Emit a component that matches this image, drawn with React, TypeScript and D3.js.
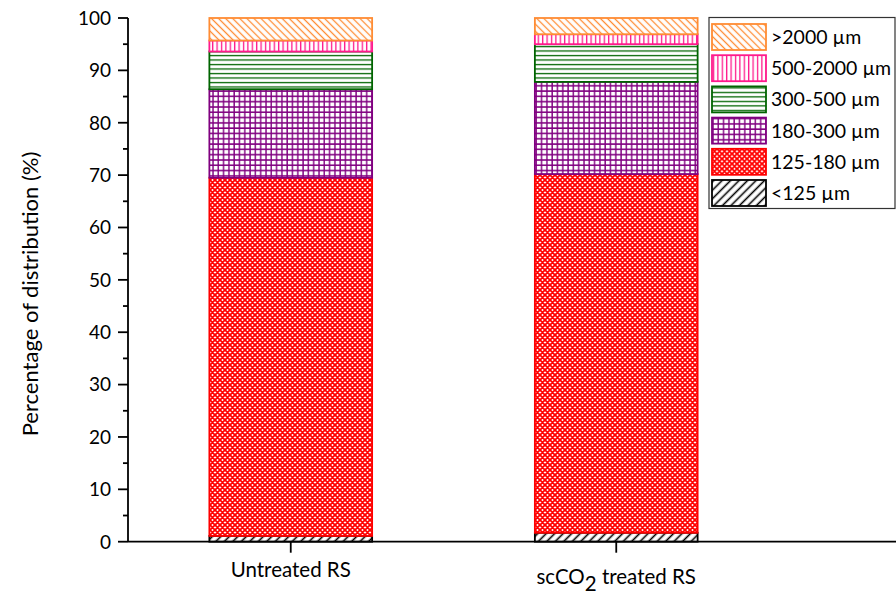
import React from "react";
import * as d3 from "d3";

// Particle size classes, bottom to top of each stack
const sizeClasses = ["<125 µm", "125-180 µm", "180-300 µm", "300-500 µm", "500-2000 µm", ">2000 µm"];
const samples = ["Untreated RS", "scCO2 treated RS"];
// Percentage of each size class per sample
const untreatedValues = [1.1, 68.4, 16.9, 7.2, 2.1, 4.3];
const treatedValues = [1.7, 68.5, 17.6, 7.2, 1.9, 3.1];
const yTicks = [0, 10, 20, 30, 40, 50, 60, 70, 80, 90, 100];
const yMinorTicks = [5, 15, 25, 35, 45, 55, 65, 75, 85, 95];

const colors = ["#000000", "#ff0000", "#800080", "#006400", "#ff1a8c", "#ff8c33"];
const patternIds = ["pBlack", "pRed", "pPurple", "pGreen", "pPink", "pOrange"];

const W = 896;
const H = 598;
const FONT = "Lato, 'Open Sans', sans-serif";

export default function App() {
  const y = d3.scaleLinear().domain([0, 100]).range([541.7, 18]);
  const x = d3.scaleBand<string>().domain(samples).range([128, 779]).paddingInner(0.5).paddingOuter(0.25);
  const series = [untreatedValues, treatedValues];

  const table = samples.map((s, i) => {
    const row: Record<string, number | string> = { sample: s };
    sizeClasses.forEach((c, j) => (row[c] = series[i][j]));
    return row;
  });
  const stacked = d3.stack<Record<string, number | string>>().keys(sizeClasses)(table as any);

  return (
    <svg width={W} height={H} style={{ position: "absolute", left: 0, top: 0, background: "#fff" }}>
      <defs>
        <pattern id="pBlack" width="6" height="6" patternUnits="userSpaceOnUse" patternTransform="rotate(45)">
          <rect width="6" height="6" fill="#fff" />
          <line x1="1.5" y1="0" x2="1.5" y2="6" stroke="#000" strokeWidth="1.6" />
        </pattern>
        <pattern id="pRed" width="5" height="5" patternUnits="userSpaceOnUse">
          <rect width="5" height="5" fill="#fff" />
          <path d="M0,0L5,5M5,0L0,5M-1,4L1,6M4,-1L6,1M-1,1L1,-1M4,6L6,4" stroke="#ff0000" strokeWidth="1.8" />
        </pattern>
        <pattern id="pPurple" width="5.3" height="5.3" patternUnits="userSpaceOnUse">
          <rect width="5.3" height="5.3" fill="#fff" />
          <path d="M1,0V5.3M0,1H5.3" stroke="#800080" strokeWidth="1.4" />
        </pattern>
        <pattern id="pGreen" width="8" height="4.5" patternUnits="userSpaceOnUse">
          <rect width="8" height="4.5" fill="#fff" />
          <path d="M0,1.5H8" stroke="#006400" strokeWidth="1.3" />
        </pattern>
        <pattern id="pPink" width="4.4" height="8" patternUnits="userSpaceOnUse">
          <rect width="4.4" height="8" fill="#fff" />
          <path d="M1.5,0V8" stroke="#ff1a8c" strokeWidth="1.3" />
        </pattern>
        <pattern id="pOrange" width="5" height="5" patternUnits="userSpaceOnUse" patternTransform="rotate(-45)">
          <rect width="5" height="5" fill="#fff" />
          <line x1="1.5" y1="0" x2="1.5" y2="5" stroke="#ff8c33" strokeWidth="1.3" />
        </pattern>
      </defs>

      {/* stacked bars */}
      {stacked.map((layer, j) =>
        layer.map((d, i) => (
          <rect
            key={`${j}-${i}`}
            x={x(samples[i])!}
            width={x.bandwidth()}
            y={y(d[1])}
            height={y(d[0]) - y(d[1])}
            fill={`url(#${patternIds[j]})`}
            stroke={colors[j]}
            strokeWidth={1.8}
          />
        ))
      )}

      {/* y axis */}
      <line x1={128} x2={128} y1={y(0)} y2={y(100)} stroke="#000" strokeWidth={1.8} />
      {yTicks.map((t) => (
        <g key={t}>
          <line x1={118} x2={128} y1={y(t)} y2={y(t)} stroke="#000" strokeWidth={1.8} />
          <text x={111} y={y(t)} dy="0.36em" textAnchor="end" fontFamily={FONT} fontSize={19} fill="#000">
            {t}
          </text>
        </g>
      ))}
      {yMinorTicks.map((t) => (
        <line key={t} x1={123} x2={128} y1={y(t)} y2={y(t)} stroke="#000" strokeWidth={1.8} />
      ))}
      <text
        transform={`translate(38,294) rotate(-90)`}
        textAnchor="middle"
        fontFamily={FONT}
        fontSize={22}
        fill="#000"
      >
        Percentage of distribution (%)
      </text>

      {/* x axis */}
      <line x1={128} x2={W} y1={y(0)} y2={y(0)} stroke="#000" strokeWidth={1.8} />
      {samples.map((s) => {
        const cx = x(s)! + x.bandwidth() / 2;
        return <line key={s} x1={cx} x2={cx} y1={y(0)} y2={y(0) + 11} stroke="#000" strokeWidth={1.8} />;
      })}
      <text x={x(samples[0])! + x.bandwidth() / 2} y={577} textAnchor="middle" fontFamily={FONT} fontSize={20.5} fill="#000">
        Untreated RS
      </text>
      <text x={x(samples[1])! + x.bandwidth() / 2} y={584} textAnchor="middle" fontFamily={FONT} fontSize={20.5} fill="#000">
        scCO<tspan dy={7}>2</tspan>
        <tspan dy={-7}> treated RS</tspan>
      </text>

      {/* legend */}
      <rect x={709} y={17.5} width={186} height={191} fill="#fff" stroke="#333" strokeWidth={1.2} />
      {sizeClasses
        .map((c, j) => ({ c, j }))
        .reverse()
        .map(({ c, j }, k) => (
          <g key={c} transform={`translate(712,${24 + k * 31.2})`}>
            <rect x={0} y={0} width={54} height={26} fill={`url(#${patternIds[j]})`} stroke={colors[j]} strokeWidth={1.8} />
            <text x={59} y={13} dy="0.36em" fontFamily={FONT} fontSize={19.5} fill="#000">
              {c}
            </text>
          </g>
        ))}
    </svg>
  );
}
